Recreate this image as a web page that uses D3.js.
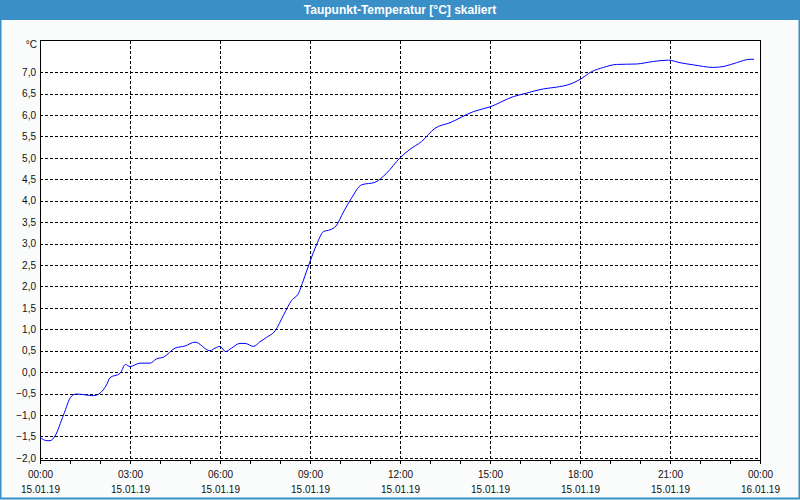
<!DOCTYPE html>
<html>
<head>
<meta charset="utf-8">
<script src="https://cdn.jsdelivr.net/npm/d3@7"></script>
<style>
  body { margin: 0; background: #fff; }
  svg { display: block; font-family: "Liberation Sans", Arial, sans-serif; }
  .grid line { stroke: #000; stroke-dasharray: 3,2; shape-rendering: crispEdges; }
  .grid path { display: none; }
  .axis text { fill: #111; font-size: 10px; }
</style>
</head>
<body>
<svg id="chart" width="800" height="500"></svg>
<script>
const width = 800;
const height = 500;
const margin = { top: 40, right: 40, bottom: 40, left: 40 };

const title = "Taupunkt-Temperatur [°C] skaliert";
const unitLabel = "°C";

// minutes after 15.01.19 00:00
const minutes = [0, 14, 20, 30, 47, 63, 73, 90, 107, 120, 133, 140, 160, 171, 180, 200, 220, 233, 247, 270, 290, 310, 340, 350, 360, 371, 383, 400, 410, 427, 440, 453, 470, 487, 503, 517, 527, 540, 553, 567, 580, 592, 607, 623, 643, 670, 693, 720, 740, 763, 790, 820, 867, 900, 947, 973, 1007, 1033, 1060, 1080, 1103, 1127, 1153, 1193, 1227, 1257, 1280, 1307, 1347, 1370, 1393, 1420, 1428];
const dewPoint = [-1.52, -1.6, -1.6, -1.49, -1.0, -0.56, -0.51, -0.53, -0.55, -0.49, -0.3, -0.13, -0.03, 0.18, 0.13, 0.21, 0.21, 0.31, 0.35, 0.56, 0.61, 0.7, 0.5, 0.56, 0.6, 0.48, 0.56, 0.67, 0.67, 0.6, 0.71, 0.81, 0.96, 1.33, 1.67, 1.84, 2.15, 2.58, 2.97, 3.28, 3.32, 3.41, 3.74, 4.06, 4.37, 4.43, 4.64, 5.0, 5.2, 5.38, 5.69, 5.82, 6.08, 6.19, 6.43, 6.51, 6.61, 6.65, 6.72, 6.83, 7.01, 7.11, 7.18, 7.19, 7.25, 7.28, 7.22, 7.17, 7.11, 7.14, 7.22, 7.3, 7.3];

const yTicks = d3.range(-2, 7.01, 0.5);

const start = new Date(2019, 0, 15, 0, 0);
const end = new Date(2019, 0, 16, 0, 0);
const data = minutes.map((m, i) => ({ t: d3.timeMinute.offset(start, m), v: dewPoint[i] }));

const svg = d3.select("#chart");

// window frame
svg.append("rect")
  .attr("width", width).attr("height", height)
  .attr("fill", "#f9fcfb");
svg.append("rect")
  .attr("x", 0.5).attr("y", 0.5)
  .attr("width", width - 1).attr("height", height - 2)
  .attr("fill", "none")
  .attr("stroke", "#3b8fc7")
  .attr("stroke-width", 2);
svg.append("rect")
  .attr("width", width).attr("height", 20)
  .attr("fill", "#3b8fc7");
svg.append("text")
  .attr("x", width / 2).attr("y", 14)
  .attr("text-anchor", "middle")
  .attr("fill", "#fff")
  .attr("font-size", "12px")
  .attr("font-weight", "bold")
  .text(title);

const x = d3.scaleTime()
  .domain([start, end])
  .range([margin.left, width - margin.right]);

const y = d3.scaleLinear()
  .domain([-2.05, 7.75])
  .range([height - margin.bottom, margin.top]);

const plotW = width - margin.left - margin.right;
const plotH = height - margin.top - margin.bottom;

svg.append("rect")
  .attr("x", margin.left).attr("y", margin.top)
  .attr("width", plotW).attr("height", plotH)
  .attr("fill", "#fff");

const locale = d3.formatLocale({ decimal: ",", thousands: ".", grouping: [3], currency: ["", "€"] });
const fmt = locale.format(".1f");

// horizontal grid + y labels
svg.append("g")
  .attr("class", "grid axis")
  .attr("transform", `translate(${margin.left}, 0)`)
  .call(d3.axisLeft(y).tickValues(yTicks).tickSize(-plotW).tickPadding(4).tickFormat(fmt));

// hourly ticks
svg.append("g")
  .attr("transform", `translate(0, ${height - margin.bottom})`)
  .call(d3.axisBottom(x).ticks(d3.timeHour.every(1)).tickSize(4).tickFormat(""))
  .call(g => g.select(".domain").remove())
  .selectAll("line").attr("stroke", "#000").attr("shape-rendering", "crispEdges");

// vertical grid every 3 hours + labels
const xTicks = d3.timeHour.range(start, d3.timeMinute.offset(end, 1), 3);
const xg = svg.append("g")
  .attr("class", "grid axis")
  .attr("transform", `translate(0, ${height - margin.bottom + 4})`)
  .call(d3.axisBottom(x).tickValues(xTicks).tickSize(-(plotH + 4)).tickPadding(7).tickFormat(d3.timeFormat("%H:%M")));
xg.selectAll(".tick text")
  .append("tspan")
  .attr("x", 0).attr("dy", "1.5em")
  .text(d => d3.timeFormat("%d.%m.%y")(d));

// frame
svg.append("rect")
  .attr("x", margin.left + 0.5).attr("y", margin.top + 0.5)
  .attr("width", plotW).attr("height", plotH)
  .attr("fill", "none")
  .attr("stroke", "#000")
  .attr("shape-rendering", "crispEdges");

svg.append("text")
  .attr("class", "axis")
  .attr("x", margin.left - 3).attr("y", margin.top + 8)
  .attr("text-anchor", "end")
  .attr("font-size", "10px")
  .attr("fill", "#111")
  .text(unitLabel);

// line
const line = d3.line()
  .x(d => x(d.t))
  .y(d => y(d.v))
  .curve(d3.curveMonotoneX);

svg.append("path")
  .datum(data)
  .attr("fill", "none")
  .attr("stroke", "#0000ff")
  .attr("stroke-width", 1)
  .attr("d", line);
</script>
</body>
</html>
